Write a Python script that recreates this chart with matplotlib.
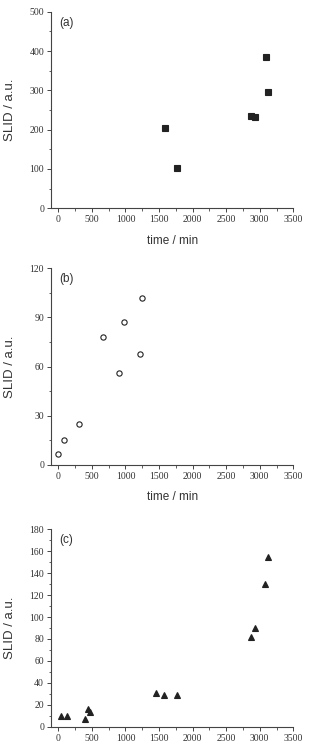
import matplotlib
matplotlib.use("Agg")
import matplotlib.pyplot as plt
from matplotlib.ticker import MultipleLocator

# Data
time_a = [1590, 1770, 2865, 2935, 3095, 3128]
slid_a = [204, 102, 236, 231, 385, 296]

time_b = [0, 84, 308, 660, 899, 983, 1217, 1241]
slid_b = [7, 15, 25, 78, 56, 87, 68, 102]

time_c = [40, 124, 402, 447, 470, 1450, 1579, 1773, 2870, 2929, 3083, 3118]
slid_c = [10, 10, 7, 16, 13.5, 31, 28.6, 29.2, 81.5, 90.3, 130.4, 154.5]

xticks = [0, 500, 1000, 1500, 2000, 2500, 3000, 3500]
panel_labels = ["(a)", "(b)", "(c)"]

W, H = 310, 752
fig = plt.figure(figsize=(W / 100, H / 100), dpi=100)

def rect(left, top, right, bottom):
    return [left / W, 1 - bottom / H, (right - left) / W, (bottom - top) / H]

ink = "#222222"
serif = "Liberation Serif"
sans = "Liberation Sans"

specs = [
    dict(r=rect(51, 11.7, 293.3, 208.3), x=time_a, y=slid_a, ylim=(0, 500), major=100, minor=50,
         marker="s", ms=3.8, fc=ink, xlabel=True),
    dict(r=rect(51, 268.3, 293.3, 465), x=time_b, y=slid_b, ylim=(0, 120), major=30, minor=15,
         marker="o", ms=3.8, fc="none", xlabel=True),
    dict(r=rect(51, 529.3, 293.3, 726.7), x=time_c, y=slid_c, ylim=(0, 180), major=20, minor=10,
         marker="^", ms=4.4, fc=ink, xlabel=False),
]

for lab, s in zip(panel_labels, specs):
    ax = fig.add_axes(s["r"])
    ax.plot(s["x"], s["y"], linestyle="none", marker=s["marker"], ms=s["ms"],
            mfc=s["fc"], mec=ink, mew=0.8)
    ax.set_xlim(-109, 3500)
    ax.set_ylim(*s["ylim"])
    ax.set_xticks(xticks)
    ax.xaxis.set_minor_locator(MultipleLocator(250))
    ax.yaxis.set_major_locator(MultipleLocator(s["major"]))
    ax.yaxis.set_minor_locator(MultipleLocator(s["minor"]))
    for sp in ["top", "right"]:
        ax.spines[sp].set_visible(False)
    for sp in ["left", "bottom"]:
        ax.spines[sp].set_linewidth(0.8)
        ax.spines[sp].set_color("#444444")
    ax.tick_params(which="major", direction="out", length=3, width=0.7, colors="#444444",
                   labelcolor="#333333", labelsize=7, pad=2)
    ax.tick_params(which="minor", direction="out", length=1.8, width=0.6, colors="#444444")
    for t in ax.get_xticklabels() + ax.get_yticklabels():
        t.set_fontfamily(serif)
    h = s["r"][3] * H
    ax.set_ylabel("SLID / a.u.", fontfamily=sans, fontsize=9.5, color="#333333", va="center")
    ax.yaxis.set_label_coords(-41 / 242.3, 0.5)
    if s["xlabel"]:
        ax.set_xlabel("time / min", fontfamily=sans, fontsize=8.5, color="#333333", va="center")
        ax.xaxis.set_label_coords(0.5, -32.4 / h)
    ax.text(0.035, 0.975, lab, transform=ax.transAxes, ha="left", va="top",
            fontfamily=sans, fontsize=8.5, color="#333333")

fig.savefig("out.png", dpi=100)
